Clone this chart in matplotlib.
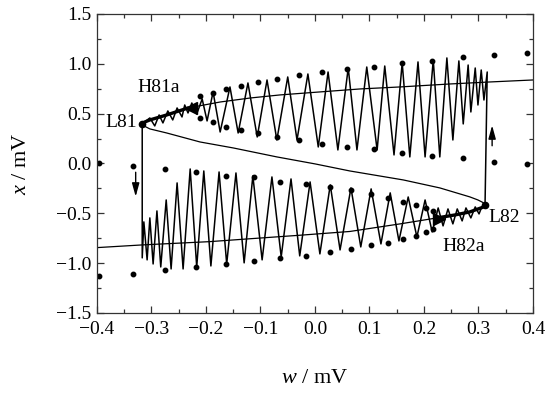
import numpy as np
import matplotlib
matplotlib.use('Agg')
import matplotlib.pyplot as plt
from matplotlib.ticker import MultipleLocator

plt.rcParams['font.family'] = 'Liberation Serif'
plt.rcParams['mathtext.fontset'] = 'custom'
plt.rcParams['mathtext.rm'] = 'Liberation Serif'
plt.rcParams['mathtext.it'] = 'Liberation Serif:italic'

# steady-state S-curve (upper -> L81 -> middle -> L82 -> lower)
s_w = [0.400, 0.321, 0.248, 0.156, 0.083, 0.009, -0.064, -0.119, -0.174, -0.233, -0.272, -0.303, -0.312, -0.317,
       -0.312, -0.303, -0.272, -0.211, -0.150, -0.070, 0.000, 0.064, 0.162, 0.229, 0.284, 0.299, 0.308, 0.312,
       0.307, 0.284, 0.257, 0.224, 0.156, 0.064, -0.028, -0.119, -0.193, -0.317, -0.400]
s_x = [0.838, 0.818, 0.798, 0.768, 0.748, 0.718, 0.688, 0.657, 0.617, 0.557, 0.487, 0.437, 0.417, 0.397,
       0.372, 0.347, 0.306, 0.216, 0.156, 0.066, -0.004, -0.075, -0.165, -0.245, -0.335, -0.366, -0.391, -0.416,
       -0.441, -0.486, -0.516, -0.546, -0.606, -0.682, -0.720, -0.755, -0.784, -0.817, -0.844]

# stable pieces between Hopf and limit points (thick)
thick_up_w = [-0.317, -0.312, -0.303, -0.272, -0.233]
thick_up_x = [0.397, 0.417, 0.437, 0.487, 0.557]
thick_lo_w = [0.224, 0.257, 0.284, 0.307, 0.312]
thick_lo_x = [-0.546, -0.516, -0.486, -0.441, -0.416]

# swept trajectory, turning points: lower band (w increasing)
low_w = [-0.317, -0.314, -0.308, -0.303, -0.297, -0.290, -0.283, -0.273, -0.264, -0.253, -0.242, -0.229, -0.217,
         -0.204, -0.191, -0.176, -0.162, -0.145, -0.130, -0.114, -0.097, -0.079, -0.062, -0.044, -0.028, -0.009,
         0.009, 0.028, 0.046, 0.066, 0.084, 0.103, 0.121, 0.138, 0.154, 0.171, 0.187, 0.202, 0.215, 0.226,
         0.235, 0.244, 0.253, 0.261, 0.270, 0.277, 0.286, 0.294, 0.301, 0.306, 0.312]
low_x = [-0.947, -0.586, -0.967, -0.546, -1.008, -0.476, -1.038, -0.366, -1.058, -0.195, -1.058, -0.055, -1.038,
         -0.075, -1.028, -0.085, -1.008, -0.095, -0.997, -0.125, -0.967, -0.135, -0.937, -0.155, -0.927, -0.185,
         -0.907, -0.215, -0.867, -0.245, -0.837, -0.255, -0.807, -0.295, -0.777, -0.336, -0.737, -0.366, -0.687, -0.446,
         -0.626, -0.456, -0.606, -0.456, -0.576, -0.446, -0.546, -0.436, -0.506, -0.436, -0.416]

# upper band (w decreasing)
up_w = [0.316, 0.310, 0.305, 0.299, 0.294, 0.286, 0.281, 0.272, 0.264, 0.253, 0.242, 0.229, 0.217, 0.202,
        0.189, 0.174, 0.160, 0.145, 0.128, 0.114, 0.095, 0.077, 0.061, 0.042, 0.024, 0.006, -0.013, -0.033,
        -0.050, -0.070, -0.088, -0.106, -0.123, -0.141, -0.156, -0.174, -0.187, -0.198, -0.207, -0.217, -0.226,
        -0.233, -0.239, -0.244, -0.253, -0.261, -0.270, -0.279, -0.286, -0.294, -0.303, -0.317]
up_x = [0.918, 0.637, 0.938, 0.587, 0.958, 0.517, 0.988, 0.397, 1.029, 0.236, 1.059, 0.066, 1.039, 0.066,
        1.019, 0.066, 1.009, 0.086, 0.978, 0.136, 0.968, 0.136, 0.958, 0.136, 0.918, 0.166, 0.898, 0.236,
        0.868, 0.236, 0.838, 0.266, 0.808, 0.306, 0.768, 0.316, 0.718, 0.427, 0.647, 0.497, 0.607,
        0.507, 0.587, 0.467, 0.557, 0.437, 0.527, 0.407, 0.487, 0.377, 0.457, 0.397]

# periodic-orbit extrema (dots)
po_up_w = [-0.211, -0.187, -0.163, -0.136, -0.105, -0.070, -0.029, 0.013, 0.059, 0.108, 0.160, 0.215, 0.272, 0.328, 0.389]
po_up_max = [0.673, 0.708, 0.748, 0.778, 0.818, 0.848, 0.888, 0.918, 0.948, 0.968, 1.009, 1.029, 1.069, 1.089, 1.109]
po_up_min = [0.457, 0.417, 0.367, 0.337, 0.306, 0.266, 0.236, 0.196, 0.166, 0.146, 0.106, 0.076, 0.056, 0.016, -0.005]
po_lo_w = [-0.396, -0.334, -0.275, -0.218, -0.163, -0.112, -0.064, -0.017, 0.028, 0.066, 0.103, 0.134, 0.162, 0.185, 0.204, 0.217]
po_lo_max = [0.006, -0.025, -0.055, -0.085, -0.125, -0.135, -0.185, -0.205, -0.235, -0.265, -0.305, -0.346, -0.386, -0.416, -0.446, -0.476]
po_lo_min = [-1.128, -1.108, -1.068, -1.043, -1.008, -0.977, -0.947, -0.927, -0.887, -0.857, -0.817, -0.797, -0.757, -0.727, -0.687, -0.657]

lp_w = [-0.317, 0.312]
lp_x = [0.400, -0.416]
hopf_w = [-0.228, 0.227]
hopf_x = [0.557, -0.556]

fig = plt.figure(figsize=(5.47, 3.94), dpi=100)
ax = fig.add_axes([0.1773, 0.2056, 0.7971, 0.7589])

traj_w = [-0.317] + low_w + up_w
traj_x = [0.400] + low_x + up_x
ax.plot(traj_w, traj_x, color='black', lw=1.1, solid_joinstyle='round')
ax.plot(s_w, s_x, color='black', lw=0.9)
ax.plot(thick_up_w, thick_up_x, color='black', lw=2.4, solid_capstyle='round')
ax.plot(thick_lo_w, thick_lo_x, color='black', lw=2.4, solid_capstyle='round')

ax.plot(po_up_w, po_up_max, 'o', color='black', ms=3.2)
ax.plot(po_up_w, po_up_min, 'o', color='black', ms=3.2)
ax.plot(po_lo_w, po_lo_max, 'o', color='black', ms=3.2)
ax.plot(po_lo_w, po_lo_min, 'o', color='black', ms=3.2)
ax.plot(lp_w, lp_x, 'o', color='black', ms=4.5)
ax.plot(hopf_w[0], hopf_x[0], '<', color='black', ms=8)
ax.plot(hopf_w[1], hopf_x[1], '>', color='black', ms=8)

arrow = dict(arrowstyle='-|>,head_length=0.8,head_width=0.22', color='black', lw=1.0, mutation_scale=10)
ax.annotate('', xy=(-0.329, -0.36), xytext=(-0.329, -0.06), arrowprops=arrow)
ax.annotate('', xy=(0.325, 0.41), xytext=(0.325, 0.15), arrowprops=arrow)

ax.text(-0.326, 0.41, 'L81', fontsize=14, ha='right', va='center')
ax.text(-0.326, 0.76, 'H81a', fontsize=14, ha='left', va='center')
ax.text(0.318, -0.54, 'L82', fontsize=14, ha='left', va='center')
ax.text(0.233, -0.83, 'H82a', fontsize=14, ha='left', va='center')

ax.set_xlim(-0.4, 0.4)
ax.set_ylim(-1.5, 1.5)
ax.xaxis.set_major_locator(MultipleLocator(0.1))
ax.xaxis.set_minor_locator(MultipleLocator(0.05))
ax.yaxis.set_major_locator(MultipleLocator(0.5))
ax.yaxis.set_minor_locator(MultipleLocator(0.25))
ax.tick_params(which='both', direction='in', top=True, right=True, labelsize=14, width=0.9, colors='#333333',
               labelcolor='black')
ax.tick_params(which='major', length=5)
ax.tick_params(which='minor', length=3)
ax.tick_params(axis='x', which='major', pad=6)
ax.tick_params(axis='y', which='major', pad=4)
for sp in ax.spines.values():
    sp.set_linewidth(0.9)
    sp.set_color('#333333')

ax.set_xlabel(r'$w$ / mV', fontsize=16, labelpad=22)
ax.set_ylabel(r'$x$ / mV', fontsize=16, labelpad=18)

fig.savefig('out.png', dpi=100)
